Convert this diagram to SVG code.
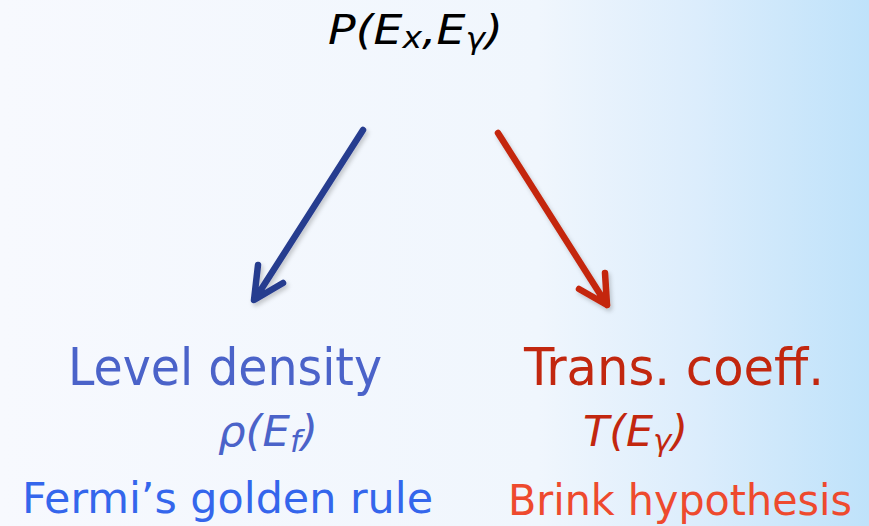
<svg xmlns="http://www.w3.org/2000/svg" width="869" height="526" viewBox="0 0 869 526">
<defs>
<linearGradient id="bg" x1="0" y1="0" x2="1" y2="0">
<stop offset="0" stop-color="#f7f9fe"/>
<stop offset="0.62" stop-color="#f0f6fd"/>
<stop offset="0.8" stop-color="#dcedfc"/>
<stop offset="1" stop-color="#bfe2fa"/>
</linearGradient>
<filter id="sh" x="-20%" y="-20%" width="140%" height="140%">
<feDropShadow dx="2" dy="3" stdDeviation="2" flood-color="#000" flood-opacity="0.2"/>
</filter>
<style>
.t{font-family:"DejaVu Sans Condensed","DejaVu Sans",sans-serif;}
.i{font-family:"DejaVu Sans",sans-serif;font-style:italic;}
.sub{font-size:72%;}
.blue{fill:#4b63c9;}
.blue2{fill:#3466ec;}
.red{fill:#c2270f;}
.red2{fill:#ee4a2e;}
.arr{fill:none;stroke-width:6.5;stroke-linecap:round;stroke-linejoin:round;filter:url(#sh);}
.rule{stroke:#2b3b8f;stroke-width:3;filter:url(#sh);}
</style>
</defs>
<rect width="869" height="526" fill="url(#bg)"/>
<g id="rules">
<line class="rule" x1="0" y1="112" x2="43" y2="112"/>
<line class="rule" x1="0" y1="313" x2="43" y2="313"/>
</g>
<g id="top">
<text class="i" x="328" y="44" font-size="41" fill="#000" textLength="175" lengthAdjust="spacingAndGlyphs">P(E<tspan class="sub" dy="4">x</tspan><tspan dy="-4">,E</tspan><tspan class="sub" dy="5">γ</tspan><tspan dy="-5">)</tspan></text>
</g>
<g id="connectors">
<path class="arr" stroke="#283c8f" d="M363,130 L255,299 M258,265 L254,300 L283,283"/>
<path class="arr" stroke="#c4260f" d="M498,133 L607,305 M605,273 L607,305 L579,289"/>
</g>
<g id="left">
<text class="t blue" x="68" y="385" font-size="52" textLength="314" lengthAdjust="spacingAndGlyphs">Level density</text>
<text class="i blue" x="218" y="446" font-size="42" textLength="100" lengthAdjust="spacingAndGlyphs">ρ(E<tspan class="sub" dy="6">f</tspan><tspan dy="-6">)</tspan></text>
<text class="t blue2" x="22" y="513" font-size="43" textLength="411" lengthAdjust="spacingAndGlyphs">Fermi’s golden rule</text>
</g>
<g id="right">
<text class="t red" x="524" y="385" font-size="52" textLength="300" lengthAdjust="spacingAndGlyphs">Trans. coeff.</text>
<text class="i red" x="583" y="446" font-size="42" textLength="105" lengthAdjust="spacingAndGlyphs">T(E<tspan class="sub" dy="5">γ</tspan><tspan dy="-5">)</tspan></text>
<text class="t red2" x="508" y="515" font-size="43" textLength="344" lengthAdjust="spacingAndGlyphs">Brink hypothesis</text>
</g>
</svg>
